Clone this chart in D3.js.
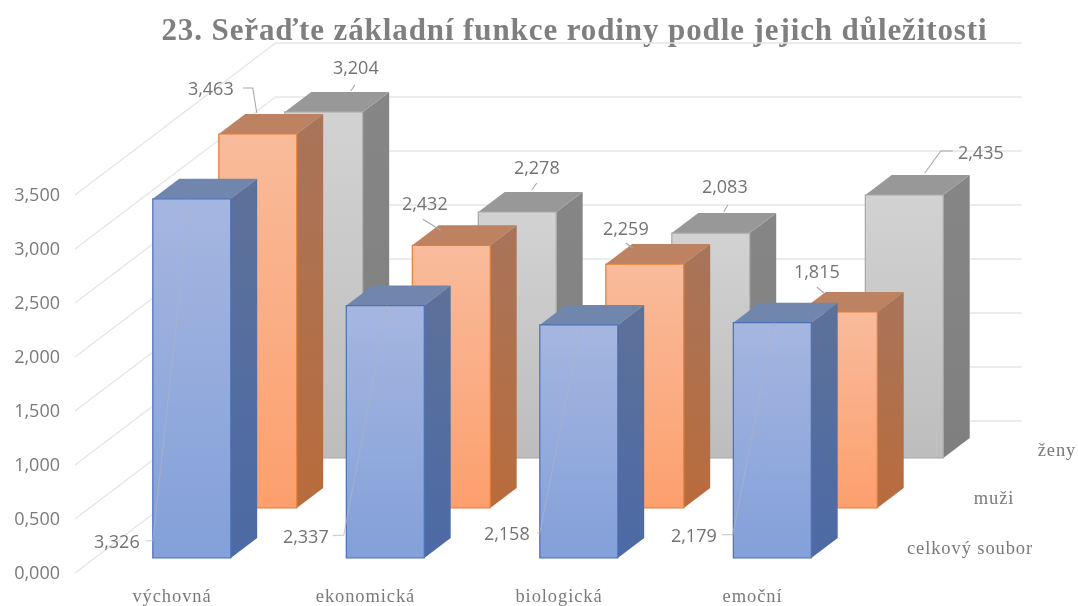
<!DOCTYPE html>
<html lang="cs">
<head>
<meta charset="utf-8">
<title>23. Seřaďte základní funkce rodiny</title>
<script src="https://cdn.jsdelivr.net/npm/d3@7"></script>
<style>
  body { margin: 0; background: #fff; }
  svg { display: block; filter: blur(0.45px); }
  .title { font: bold 31px "Liberation Serif", serif; fill: #7f7f7f; letter-spacing: 0.9px; text-anchor: middle; }
  .value-label { font: 18px "Open Sans", sans-serif; fill: #737373; text-anchor: middle; dominant-baseline: central; }
  .axis text { font: 18px "Open Sans", sans-serif; fill: #7a7a7a; }
  .cat-axis text, .series-label { font: 18.5px "Liberation Serif", serif; fill: #7a7a7a; letter-spacing: 0.9px; }
  .series-label { text-anchor: middle; dominant-baseline: central; }
</style>
</head>
<body>
<div class="chart"></div>
<script>
// Chart data
const categories = ["výchovná", "ekonomická", "biologická", "emoční"];
const seriesNames = ["ženy", "muži", "celkový soubor"];
const zeny = [3.204, 2.278, 2.083, 2.435];
const muzi = [3.463, 2.432, 2.259, 1.815];
const celkovySoubor = [3.326, 2.337, 2.158, 2.179];
const yTicks = [0, 0.5, 1, 1.5, 2, 2.5, 3, 3.5];
const titleText = "23. Seřaďte základní funkce rodiny podle jejich důležitosti";

// Define chart configuration
const chartConfig = {
  width: 1078,
  height: 606,
  floorY: 573,       // y of value 0 at the front edge of the floor
  unit: 108,         // pixels per 1.0 on the value axis
  slant: 1.32,       // x shift per pixel of depth
  wallDepth: 152,
  barDepth: 20,
  wallLeft: 75,
  wallRight: 821
};

// Colours of each series faces
const seriesStyle = {
  "celkový soubor": { front: ["#a5b6e0", "#83a0d9"], side: ["#5d7199", "#4c6aa6"], top: "#7086ad", edge: "#4a6fb8", leader: "#aeb4c2", leaderOpacity: 0.65 },
  "muži": { front: ["#f8bb9b", "#fd9f6d"], side: ["#a8745a", "#b96c3c"], top: "#bd8262", edge: "#e57d36", leader: "#a9a9a9", leaderOpacity: 1 },
  "ženy": { front: ["#d2d2d2", "#bdbdbd"], side: ["#868686", "#7f7f7f"], top: "#989898", edge: "#a8a8a8", leader: "#a9a9a9", leaderOpacity: 1 }
};

// Label and leader line placement, offsets from the top middle of the front face
const labelLayout = {
  "celkový soubor": [
    { label: [-75, 342], leader: [[-46, 342], [-39, 342], [-2, 1]] },
    { label: [-79.5, 230], leader: [[-52.5, 230], [-41.5, 229.5], [2, 0]] },
    { label: [-72, 208], leader: [[-42, 208], [-39, 208], [2, 1]] },
    { label: [-78.5, 212], leader: [[-50.5, 212], [-39.5, 212], [1.5, 0]] }
  ],
  "muži": [
    { label: [-47, -46], leader: [[-15, -46], [-5, -46], [-1, -21]] },
    { label: [-26.5, -42], leader: [[-28.5, -26], [-10.5, -15]] },
    { label: [-19, -36], leader: [[-19, -21], [-12, -16]] },
    { label: [-21.5, -41], leader: [[-21.5, -25], [-14.5, -19]] }
  ],
  "ženy": [
    { label: [32, -45], leader: [[31, -27], [27, -21]] },
    { label: [19.5, -45], leader: [[19.5, -29], [14.5, -22]] },
    { label: [14, -47], leader: [[17, -28], [13, -21]] },
    { label: [76.5, -43], leader: [[48.5, -44], [36.5, -44], [20.5, -22]] }
  ]
};
const seriesLabelPos = { "ženy": [1057, 450], "muži": [994, 498], "celkový soubor": [970, 548] };

const seriesValues = { "ženy": zeny, "muži": muzi, "celkový soubor": celkovySoubor };

// Scales: value, category and depth (back series first)
const yScale = d3.scaleLinear()
  .domain([0, 3.5])
  .range([chartConfig.floorY, chartConfig.floorY - 3.5 * chartConfig.unit]);
const xScale = d3.scaleBand()
  .domain(categories)
  .range([133, 791.5])
  .paddingInner(0.597)
  .paddingOuter(0);
const depthScale = d3.scalePoint()
  .domain(seriesNames)
  .range([115, 15]);

// Project chart position to the picture, depth moves up and to the right
function project(x, value, depth) {
  return [x + depth * chartConfig.slant, yScale(value) - depth];
}

const polygon = d3.line();

const svg = d3.select(".chart")
  .append("svg")
  .attr("width", chartConfig.width)
  .attr("height", chartConfig.height);

// Gradients for front and side faces
const defs = svg.append("defs");
seriesNames.forEach((name, i) => {
  ["front", "side"].forEach(face => {
    const grad = defs.append("linearGradient")
      .attr("id", `${face}-${i}`)
      .attr("x1", 0).attr("y1", 0).attr("x2", 0).attr("y2", 1);
    grad.append("stop").attr("offset", "0%").attr("stop-color", seriesStyle[name][face][0]);
    grad.append("stop").attr("offset", "100%").attr("stop-color", seriesStyle[name][face][1]);
  });
});

// Title
svg.append("text")
  .attr("class", "title")
  .attr("x", 574.5)
  .attr("y", 40)
  .text(titleText);

// Gridlines on the left and back walls
const grid = svg.append("g")
  .attr("fill", "none")
  .attr("stroke", "#e6e6e6")
  .attr("stroke-width", 1.4);

grid.selectAll(".wall-left")
  .data(yTicks)
  .enter()
  .append("path")
  .attr("d", d => polygon([
    project(chartConfig.wallLeft, d, 0),
    project(chartConfig.wallLeft, d, chartConfig.wallDepth),
    project(chartConfig.wallRight, d, chartConfig.wallDepth)
  ]));

// Value axis
const yAxis = d3.axisLeft(yScale)
  .tickValues(yTicks)
  .tickSize(0)
  .tickPadding(0)
  .tickFormat(d => d3.format(".3f")(d).replace(".", ","));

svg.append("g")
  .attr("class", "axis")
  .attr("transform", "translate(60,0)")
  .call(yAxis)
  .call(g => g.select(".domain").remove());

// Category axis
const xAxis = d3.axisBottom(xScale)
  .tickSize(0)
  .tickPadding(0);

svg.append("g")
  .attr("class", "cat-axis")
  .attr("transform", "translate(0,589)")
  .call(xAxis)
  .call(g => g.select(".domain").remove());

// Bars, back series first so the front ones cover them
const bars = [];
seriesNames.forEach((name, s) => {
  const group = svg.append("g").attr("class", "series");
  const depth = depthScale(name);
  const back = depth + chartConfig.barDepth;
  const style = seriesStyle[name];

  categories.forEach((cat, c) => {
    const value = seriesValues[name][c];
    const left = xScale(cat);
    const right = left + xScale.bandwidth();

    const g = group.append("g");
    // right side
    g.append("path")
      .attr("d", polygon([
        project(right, 0, depth), project(right, value, depth),
        project(right, value, back), project(right, 0, back)
      ]) + "Z")
      .attr("fill", `url(#side-${s})`);
    // top
    g.append("path")
      .attr("d", polygon([
        project(left, value, depth), project(left, value, back),
        project(right, value, back), project(right, value, depth)
      ]) + "Z")
      .attr("fill", style.top);
    // front
    g.append("path")
      .attr("d", polygon([
        project(left, 0, depth), project(left, value, depth),
        project(right, value, depth), project(right, 0, depth)
      ]) + "Z")
      .attr("fill", `url(#front-${s})`)
      .attr("stroke", style.edge)
      .attr("stroke-width", 1.2);

    bars.push({ name, c, value, anchor: project((left + right) / 2, value, depth) });
  });
});

// Leader lines and value labels
const labels = svg.append("g");

labels.selectAll("path")
  .data(bars)
  .enter()
  .append("path")
  .attr("fill", "none")
  .attr("stroke", d => seriesStyle[d.name].leader)
  .attr("stroke-width", 1.1)
  .attr("stroke-opacity", d => seriesStyle[d.name].leaderOpacity)
  .attr("d", d => polygon(labelLayout[d.name][d.c].leader.map(p => [d.anchor[0] + p[0], d.anchor[1] + p[1]])));

labels.selectAll("text")
  .data(bars)
  .enter()
  .append("text")
  .attr("class", "value-label")
  .attr("x", d => d.anchor[0] + labelLayout[d.name][d.c].label[0])
  .attr("y", d => d.anchor[1] + labelLayout[d.name][d.c].label[1])
  .text(d => d3.format(".3f")(d.value).replace(".", ","));

// Series names on the depth axis
svg.selectAll(".series-label")
  .data(seriesNames)
  .enter()
  .append("text")
  .attr("class", "series-label")
  .attr("x", d => seriesLabelPos[d][0])
  .attr("y", d => seriesLabelPos[d][1])
  .text(d => d);
</script>
</body>
</html>
